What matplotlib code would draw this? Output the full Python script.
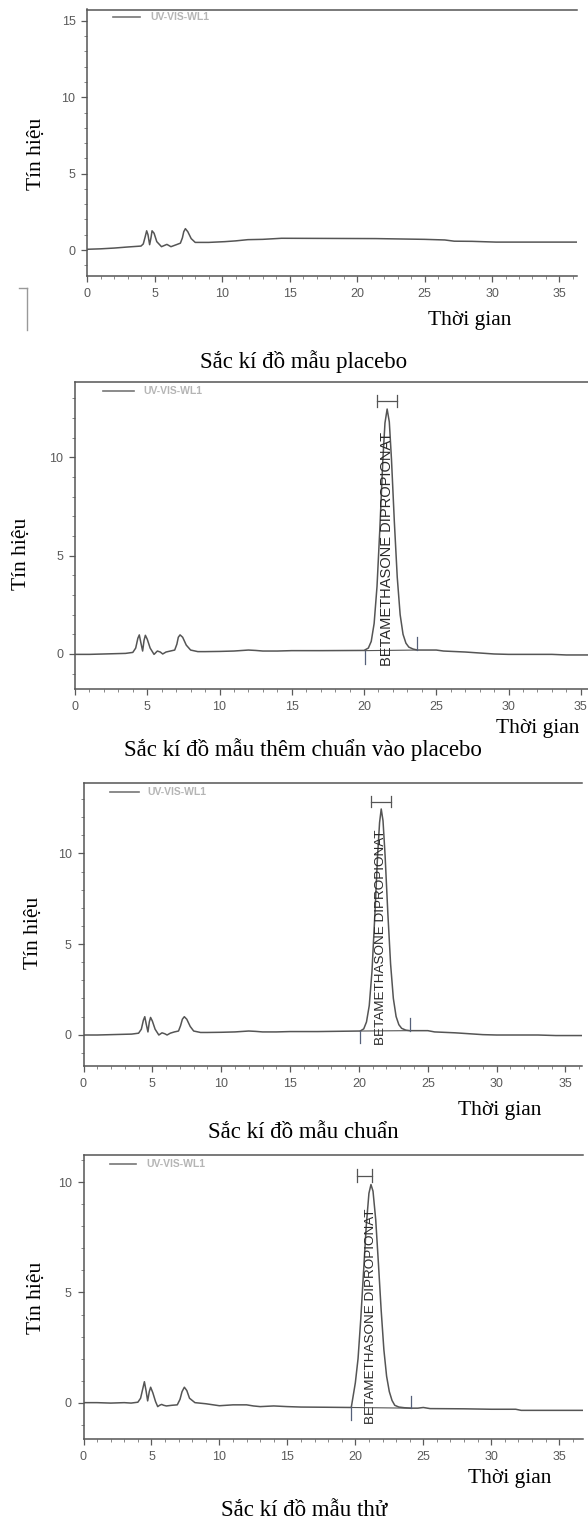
import matplotlib
matplotlib.use("Agg")
import matplotlib.pyplot as plt
from matplotlib.lines import Line2D
from matplotlib.ticker import MultipleLocator

W, H = 588, 1523

# ---------------- data ----------------
# Panel 1: placebo
t_placebo = [0, 1, 2, 3, 3.98, 4.15, 4.3, 4.4, 4.5, 4.62, 4.72, 4.8, 4.95, 5.15, 5.5, 5.9, 6.2,
             6.6, 6.9, 7.05, 7.15, 7.27, 7.45, 7.7, 8.0, 9.0, 10.2, 11.0, 11.9, 13.0, 14.4,
             18.0, 21.4, 25.0, 26.5, 27.2, 28.5, 30.3, 33.0, 36.3]
s_placebo = [0.05, 0.08, 0.13, 0.2, 0.26, 0.4, 0.9, 1.26, 1.0, 0.35, 0.8, 1.26, 1.1, 0.55, 0.22,
             0.37, 0.22, 0.35, 0.45, 0.8, 1.2, 1.4, 1.2, 0.75, 0.5, 0.5, 0.55, 0.6, 0.68, 0.7,
             0.77, 0.76, 0.75, 0.7, 0.66, 0.58, 0.57, 0.52, 0.52, 0.52]

# Panel 2: standard added to placebo
t_spiked = [0, 1, 2, 3, 3.5, 4.0, 4.2, 4.35, 4.45, 4.55, 4.68, 4.78, 4.87, 5.0, 5.2, 5.47, 5.7,
            5.9, 6.07, 6.3, 6.6, 6.9, 7.05, 7.15, 7.27, 7.45, 7.7, 8.0, 8.5, 9, 10, 11, 12, 12.5,
            13, 14, 15, 17, 20.0, 20.3, 20.5, 20.7, 20.9, 21.1, 21.3, 21.45, 21.6, 21.75, 21.9,
            22.1, 22.3, 22.5, 22.7, 22.9, 23.1, 23.4, 23.7, 24.5, 25.0, 25.5, 27, 28, 29, 30,
            33, 34, 35.5]
s_spiked = [-0.02, -0.02, 0.0, 0.02, 0.03, 0.08, 0.3, 0.8, 0.97, 0.6, 0.15, 0.7, 0.95, 0.75,
            0.3, -0.02, 0.15, 0.1, 0.0, 0.1, 0.15, 0.2, 0.5, 0.85, 0.97, 0.85, 0.45, 0.2, 0.12,
            0.12, 0.13, 0.15, 0.2, 0.18, 0.15, 0.15, 0.17, 0.17, 0.18, 0.3, 0.64, 1.55, 3.44,
            6.43, 9.82, 11.74, 12.45, 11.8, 9.9, 6.7, 3.9, 2.0, 1.0, 0.55, 0.35, 0.25, 0.2, 0.2,
            0.2, 0.15, 0.1, 0.05, 0.0, -0.02, -0.02, -0.05, -0.05]

# Panel 3: standard
t_standard = [0, 1, 2, 3, 3.5, 4.0, 4.2, 4.35, 4.45, 4.55, 4.68, 4.78, 4.87, 5.0, 5.2, 5.47,
              5.7, 5.9, 6.07, 6.3, 6.6, 6.9, 7.05, 7.18, 7.32, 7.5, 7.75, 8.0, 8.5, 9, 10, 11,
              12, 12.5, 13, 14, 15, 17, 20.1, 20.35, 20.55, 20.75, 20.95, 21.15, 21.35, 21.5,
              21.62, 21.75, 21.9, 22.1, 22.3, 22.5, 22.7, 22.9, 23.1, 23.4, 23.7, 24.5, 25.0,
              25.5, 27, 28, 29, 30, 33, 34.3, 36.2]
s_standard = [-0.02, -0.02, 0.0, 0.02, 0.03, 0.08, 0.3, 0.8, 0.99, 0.6, 0.15, 0.7, 0.95, 0.75,
              0.3, -0.02, 0.1, 0.05, -0.02, 0.08, 0.15, 0.2, 0.5, 0.85, 0.99, 0.85, 0.45, 0.2,
              0.12, 0.12, 0.13, 0.15, 0.2, 0.18, 0.15, 0.15, 0.17, 0.17, 0.2, 0.32, 0.7, 1.6,
              3.5, 6.5, 9.8, 11.7, 12.45, 11.8, 9.9, 6.7, 3.9, 2.0, 1.0, 0.55, 0.35, 0.25, 0.22,
              0.22, 0.22, 0.15, 0.1, 0.05, 0.0, -0.02, -0.02, -0.05, -0.05]

# Panel 4: test sample
t_test = [0, 1, 2, 3, 3.5, 4.0, 4.2, 4.35, 4.48, 4.6, 4.72, 4.84, 4.94, 5.1, 5.3, 5.46, 5.6,
          5.75, 5.9, 6.1, 6.5, 6.9, 7.1, 7.25, 7.42, 7.6, 7.8, 8.2, 9, 10, 11, 12, 12.5, 13, 14,
          15, 16, 18, 19.7, 20.0, 20.2, 20.4, 20.6, 20.8, 21.0, 21.15, 21.3, 21.5, 21.7, 21.9,
          22.1, 22.3, 22.5, 22.7, 22.9, 23.2, 23.6, 24.07, 24.6, 25.0, 25.5, 28, 30, 31.8,
          32.2, 36.75]
s_test = [0, 0, -0.02, 0, -0.02, 0.02, 0.2, 0.6, 0.95, 0.55, 0.08, 0.5, 0.7, 0.45, 0.05, -0.18,
          -0.12, -0.08, -0.12, -0.15, -0.12, -0.1, 0.15, 0.5, 0.7, 0.55, 0.2, 0.0, -0.05, -0.14,
          -0.1, -0.1, -0.15, -0.18, -0.15, -0.18, -0.2, -0.21, -0.22, 0.9, 2.0, 3.8, 5.9, 8.0,
          9.5, 9.9, 9.6, 8.3, 6.3, 4.2, 2.4, 1.2, 0.5, 0.1, -0.12, -0.2, -0.23, -0.25, -0.25,
          -0.22, -0.27, -0.28, -0.3, -0.3, -0.35, -0.35]

panel_times = [t_placebo, t_spiked, t_standard, t_test]
panel_signals = [s_placebo, s_spiked, s_standard, s_test]
panel_titles = ["Sắc kí đồ mẫu placebo", "Sắc kí đồ mẫu thêm chuẩn vào placebo",
                "Sắc kí đồ mẫu chuẩn", "Sắc kí đồ mẫu thử"]
panel_xmax = [36.3, 35.5, 36.2, 36.75]
panel_ylim = [(-1.68, 15.75), (-1.78, 13.84), (-1.73, 13.9), (-1.65, 11.24)]
panel_yticks = [[0, 5, 10, 15], [0, 5, 10], [0, 5, 10], [0, 5, 10]]
x_ticks = [0, 5, 10, 15, 20, 25, 30, 35]

peak_name = "BETAMETHASONE DIPROPIONAT"
# per panel (None for placebo): peak apex time, label top, bracket (start, end, level),
# integration start (t, y, marker end), integration end (t, y, marker end)
peak_apex = [None, 21.6, 21.6, 21.15]
label_top = [None, 11.3, 11.3, 8.8]
bracket = [None, (20.9, 22.3, 12.86), (20.9, 22.35, 12.85), (20.1, 21.25, 10.3)]
integ_start = [None, (20.05, 0.17, -0.5), (20.1, 0.2, -0.46), (19.7, -0.22, -0.79)]
integ_end = [None, (23.7, 0.2, 0.88), (23.7, 0.22, 0.92), (24.07, -0.25, 0.3)]
label_size = [None, 10.5, 9.7, 9.7]

legend_text = "UV-VIS-WL1"
y_label = "Tín hiệu"
x_label = "Thời gian"

# ---------------- layout (pixels) ----------------
axes_px = [(87.3, 9.5, 577, 275.7), (75, 381.7, 588, 689), (83.5, 782.7, 582, 1066),
           (83.5, 1155, 583, 1439)]
legend_px = [(113, 140, 16.7, 150), (103, 133.5, 391, 143), (110, 139, 791.7, 147),
             (110, 136, 1164, 146)]
ylabel_px = [(36, 154), (21, 554), (33, 933), (36, 1298)]
xlabel_px = [(470, 320), (538, 728), (500, 1110), (510, 1478)]
title_px = [(303.5, 362), (303, 750), (303.5, 1132), (304, 1510)]

LINE = "#555555"
TICK = "#5a5a5a"
SERIF = ["Liberation Serif", "DejaVu Serif"]
SANS = ["Liberation Sans", "DejaVu Sans"]

fig = plt.figure(figsize=(W / 100, H / 100), dpi=100)


def fx(x):
    return x / W


def fy(y):
    return 1 - y / H


for i in range(4):
    l, t, r, b = axes_px[i]
    ax = fig.add_axes([fx(l), fy(b), (r - l) / W, (b - t) / H])
    ax.plot(panel_times[i], panel_signals[i], color=LINE, lw=1.1)
    ax.set_xlim(0, panel_xmax[i])
    ax.set_ylim(*panel_ylim[i])
    ax.set_xticks(x_ticks)
    ax.set_yticks(panel_yticks[i])
    ax.xaxis.set_minor_locator(MultipleLocator(1))
    ax.yaxis.set_minor_locator(MultipleLocator(1))
    ax.tick_params(which="major", length=4, width=0.9, color=TICK, labelcolor=TICK,
                   labelsize=9, pad=4.5)
    ax.tick_params(which="minor", length=2, width=0.7, color="#888888")
    for lab in ax.get_xticklabels() + ax.get_yticklabels():
        lab.set_family(SANS)
    ax.spines["right"].set_visible(False)
    for s in ["left", "bottom", "top"]:
        ax.spines[s].set_color("#555555")
        ax.spines[s].set_linewidth(1.1)

    if peak_apex[i] is not None:
        bs, be, bl = bracket[i]
        ax.plot([bs, be], [bl, bl], color=LINE, lw=0.9)
        ax.plot([bs, bs], [bl - 0.3, bl + 0.3], color=LINE, lw=0.9)
        ax.plot([be, be], [bl - 0.3, bl + 0.3], color=LINE, lw=0.9)
        s0, sy0, sm0 = integ_start[i]
        e0, ey0, em0 = integ_end[i]
        ax.plot([s0, e0], [sy0, ey0], color=LINE, lw=0.8)
        ax.plot([s0, s0], [sy0, sm0], color="#55607a", lw=0.9)
        ax.plot([e0, e0], [ey0, em0], color="#55607a", lw=0.9)
        ax.text(peak_apex[i], label_top[i], peak_name, rotation=90, ha="center", va="top",
                fontsize=label_size[i], family=SANS, color="#2a2a2a")

    x1, x2, ly, tx = legend_px[i]
    fig.add_artist(Line2D([fx(x1), fx(x2)], [fy(ly), fy(ly)], color="#777777", lw=1.2,
                          transform=fig.transFigure))
    fig.text(fx(tx), fy(ly), legend_text, ha="left", va="center", fontsize=7.5,
             color="#b5b5b5", family=SANS, weight="bold")

    fig.text(fx(ylabel_px[i][0]), fy(ylabel_px[i][1]), y_label, rotation=90, ha="center",
             va="center", fontsize=15.5, family=SERIF, color="black")
    fig.text(fx(xlabel_px[i][0]), fy(xlabel_px[i][1]), x_label, ha="center", va="center",
             fontsize=15.5, family=SERIF, color="black")
    fig.text(fx(title_px[i][0]), fy(title_px[i][1]), panel_titles[i], ha="center",
             va="center", fontsize=16.5, family=SERIF, color="black")

# stray bracket mark at the left of the first panel
fig.add_artist(Line2D([fx(27.4), fx(27.4)], [fy(288), fy(330)], color="#999999", lw=1,
                      transform=fig.transFigure))
fig.add_artist(Line2D([fx(18.8), fx(27.4)], [fy(288), fy(288)], color="#999999", lw=1,
                      transform=fig.transFigure))

fig.savefig("out.png", dpi=100)
